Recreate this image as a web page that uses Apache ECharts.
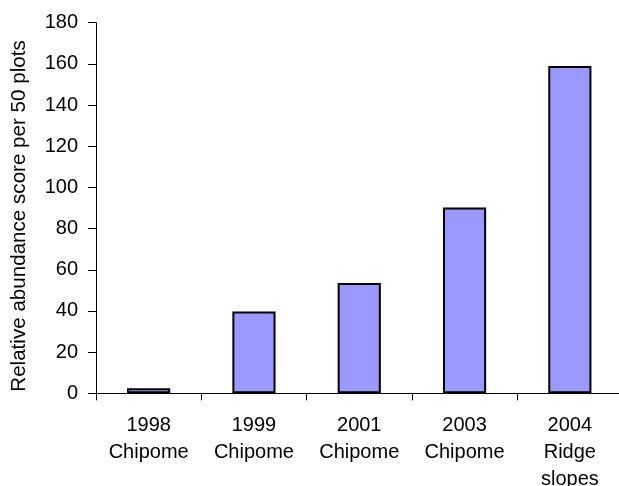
<!DOCTYPE html>
<html>
<head>
<meta charset="utf-8">
<script src="https://cdn.jsdelivr.net/npm/echarts@6/dist/echarts.min.js"></script>
<style>
  html, body { margin: 0; padding: 0; background: #fff; }
  #chart { width: 619px; height: 486px; }
</style>
</head>
<body>
<div id="chart"></div>
<script>
// Relative abundance survey results per site/year
const categories = ['1998\nChipome', '1999\nChipome', '2001\nChipome', '2003\nChipome', '2004\nRidge\nslopes'];
const abundance = [2.5, 39.7, 53.6, 90.2, 159];
const yTicks = { min: 0, max: 180, interval: 20 };
const yTitle = 'Relative abundance score per 50 plots';

const font = 'Arial, "Liberation Sans", Helvetica, sans-serif';
const chart = echarts.init(document.getElementById('chart'), null, { renderer: 'canvas' });

chart.setOption({
  backgroundColor: '#ffffff',
  animation: false,
  grid: {
    left: 96, right: -3.5, top: 22.7, bottom: 92.7,
    containLabel: false, outerBoundsMode: 'none'
  },
  xAxis: {
    type: 'category',
    data: categories,
    axisLine: { lineStyle: { color: '#000', width: 1 } },
    axisTick: { show: true, length: 7, lineStyle: { color: '#000' } },
    axisLabel: {
      color: '#000', fontFamily: font, fontSize: 20, lineHeight: 27,
      margin: 19, interval: 0
    },
    splitLine: { show: false }
  },
  yAxis: {
    type: 'value',
    min: yTicks.min,
    max: yTicks.max,
    interval: yTicks.interval,
    name: yTitle,
    nameLocation: 'middle',
    nameGap: 66,
    nameRotate: 90,
    nameTextStyle: { color: '#000', fontFamily: font, fontSize: 20.6, padding: [0, 16, 0, 0] },
    axisLine: { show: true, lineStyle: { color: '#000', width: 1 } },
    axisTick: { show: true, length: 8, lineStyle: { color: '#000' } },
    axisLabel: { color: '#000', fontFamily: font, fontSize: 20, margin: 18 },
    splitLine: { show: false }
  },
  series: [{
    type: 'bar',
    data: abundance,
    barWidth: '41%',
    itemStyle: { color: '#9999ff', borderColor: '#000', borderWidth: 2 }
  }]
});
</script>
</body>
</html>
